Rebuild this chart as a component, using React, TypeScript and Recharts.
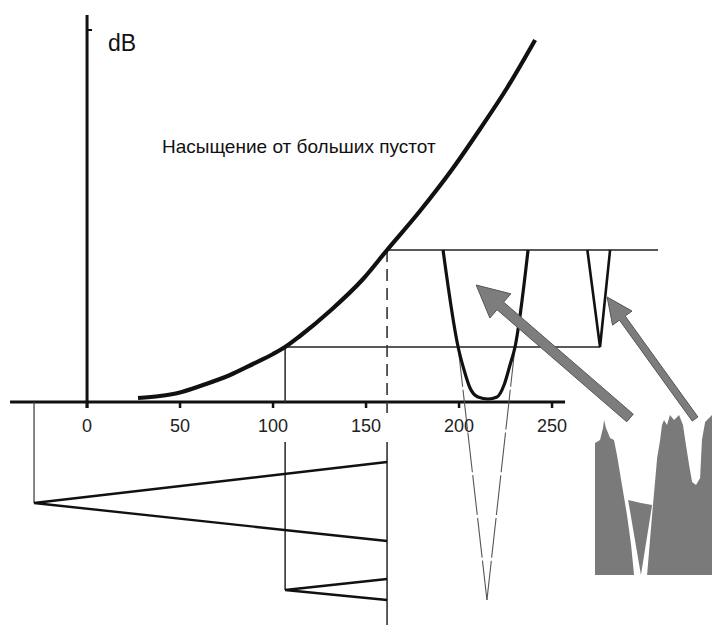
import React from 'react'
import { ComposedChart, Line, Area, XAxis, YAxis, ReferenceLine, ReferenceDot } from 'recharts'

// response curve (dB against grey level)
const curve = [
  { x: 27.4, y: 2 }, { x: 39.2, y: 3 }, { x: 48.9, y: 4.5 }, { x: 62.4, y: 8.5 },
  { x: 76.9, y: 13.5 }, { x: 89.2, y: 19 }, { x: 100, y: 24 }, { x: 106.5, y: 27.5 },
  { x: 114.5, y: 33 }, { x: 130.6, y: 45.5 }, { x: 148.4, y: 61.5 }, { x: 161.3, y: 76 },
  { x: 179, y: 95.5 }, { x: 196.8, y: 117 }, { x: 211.3, y: 136.5 }, { x: 225.8, y: 157 },
  { x: 240.9, y: 181 },
]

// wide void trough
const trough = [
  { x: 191.4, y: 76 }, { x: 199.5, y: 27.5 }, { x: 202.7, y: 16 }, { x: 205.9, y: 7 },
  { x: 210.2, y: 2.5 }, { x: 215.6, y: 1.5 }, { x: 220.4, y: 2.5 }, { x: 224.2, y: 8.5 },
  { x: 227.4, y: 18.5 }, { x: 230.1, y: 27.5 }, { x: 237.1, y: 76 },
]
const troughExtLeft = [{ x: 199.5, y: 27.5 }, { x: 215, y: -99 }]
const troughExtRight = [{ x: 230.1, y: 27.5 }, { x: 215, y: -99 }]

// narrow notch
const notch = [{ x: 269.0, y: 76 }, { x: 275.8, y: 27.5 }, { x: 281.2, y: 76 }]

// axes and guide lines
const axisX = [{ x: -41.4, y: 0 }, { x: 257, y: 0 }]
const axisY = [{ x: 0, y: -3 }, { x: 0, y: 193.5 }]
const axisYTick = [{ x: 0, y: 186 }, { x: 2.7, y: 186 }]
const levelLow = [{ x: 106.5, y: 27.5 }, { x: 275.8, y: 27.5 }]
const levelHigh = [{ x: 161.3, y: 76 }, { x: 307, y: 76 }]
const dropLowTop = [{ x: 106.5, y: 27.5 }, { x: 106.5, y: 0 }]
const dropLowBottom = [{ x: 106.5, y: -20 }, { x: 106.5, y: -94 }]
const dropHighTop = [{ x: 161.3, y: 76 }, { x: 161.3, y: -5.5 }]
const dropHighBottom = [{ x: 161.3, y: -20 }, { x: 161.3, y: -111.5 }]
const leftDrop = [{ x: -28.5, y: 0 }, { x: -28.5, y: -50.5 }]

// sweep triangles below the axis
const sweepBig = [{ x: 161.3, y: -30 }, { x: -28.5, y: -50.5 }, { x: 161.3, y: -69.5 }]
const sweepSmall = [{ x: 161.3, y: -88.5 }, { x: 106.5, y: -94 }, { x: 161.3, y: -99 }]

const xTicks = [0, 50, 100, 150, 200, 250]

// grey-level histogram (lo, hi)
const histLeft = [
  { x: 273.1, lo: -86.5, hi: -20.5 }, { x: 275.8, lo: -86.5, hi: -19 }, { x: 277.4, lo: -86.5, hi: -13 },
  { x: 278, lo: -86.5, hi: -9 }, { x: 279, lo: -86.5, hi: -13 }, { x: 281.2, lo: -86.5, hi: -18 },
  { x: 283.3, lo: -86.5, hi: -19 }, { x: 284.9, lo: -86.5, hi: -26.5 }, { x: 287.6, lo: -86.5, hi: -41.5 },
  { x: 290.3, lo: -86.5, hi: -56.5 }, { x: 292.5, lo: -86.5, hi: -71.5 }, { x: 294.1, lo: -86.5, hi: -86.5 },
]
const histMid = [
  { x: 290.9, lo: -49, hi: -49 }, { x: 297.8, lo: -86.5, hi: -50.5 }, { x: 303.8, lo: -51.5, hi: -51.5 },
]
const histRight = [
  { x: 301.1, lo: -86.5, hi: -86.5 }, { x: 303.8, lo: -86.5, hi: -56.5 }, { x: 306.5, lo: -86.5, hi: -28 },
  { x: 308.1, lo: -86.5, hi: -19 }, { x: 309.1, lo: -86.5, hi: -11.5 }, { x: 310.2, lo: -86.5, hi: -9 },
  { x: 311.8, lo: -86.5, hi: -11.5 }, { x: 313.4, lo: -86.5, hi: -6.5 }, { x: 315.6, lo: -86.5, hi: -9 },
  { x: 318.3, lo: -86.5, hi: -6.5 }, { x: 320.4, lo: -86.5, hi: -11.5 }, { x: 322, lo: -86.5, hi: -21.5 },
  { x: 323.7, lo: -86.5, hi: -31.5 }, { x: 325.3, lo: -86.5, hi: -40 }, { x: 327.4, lo: -86.5, hi: -41.5 },
  { x: 329.6, lo: -86.5, hi: -38 }, { x: 330.6, lo: -86.5, hi: -19 }, { x: 332.3, lo: -86.5, hi: -10 },
  { x: 334.4, lo: -86.5, hi: -8 }, { x: 336, lo: -86.5, hi: -6.5 },
]

// arrows: tail -> tip
const arrowWide = [{ x: 291.9, y: -8 }, { x: 209.2, y: 58.5 }]
const arrowNarrow = [{ x: 326.9, y: -8.5 }, { x: 279.6, y: 52.5 }]

const font = '"Liberation Sans", Arial, sans-serif'

const arrowShape = (shaft: number, headLen: number, headW: number) => (props: any) => {
  const { x1, y1, x2, y2 } = props
  const dx = x2 - x1
  const dy = y2 - y1
  const len = Math.hypot(dx, dy) || 1
  const ux = dx / len
  const uy = dy / len
  const nx = -uy
  const ny = ux
  const bx = x2 - ux * headLen
  const by = y2 - uy * headLen
  const pts = [
    [x1 + (nx * shaft) / 2, y1 + (ny * shaft) / 2],
    [bx + (nx * shaft) / 2, by + (ny * shaft) / 2],
    [bx + (nx * headW) / 2, by + (ny * headW) / 2],
    [x2, y2],
    [bx - (nx * headW) / 2, by - (ny * headW) / 2],
    [bx - (nx * shaft) / 2, by - (ny * shaft) / 2],
    [x1 - (nx * shaft) / 2, y1 - (ny * shaft) / 2],
  ]
  return (
    <polygon
      points={pts.map(p => p.join(',')).join(' ')}
      fill="#7d7d7d"
      stroke="#555"
      strokeWidth={1}
    />
  )
}

const strokes = [
  { key: 'axisX', data: axisX, w: 3.2, c: '#111' },
  { key: 'axisY', data: axisY, w: 3, c: '#111' },
  { key: 'axisYTick', data: axisYTick, w: 2, c: '#111' },
  { key: 'levelLow', data: levelLow, w: 1.4, c: '#222' },
  { key: 'levelHigh', data: levelHigh, w: 1.4, c: '#222' },
  { key: 'dropLowTop', data: dropLowTop, w: 1.6, c: '#333' },
  { key: 'dropLowBottom', data: dropLowBottom, w: 1.6, c: '#333' },
  { key: 'dropHighTop', data: dropHighTop, w: 1.6, c: '#333', dash: '12 7' },
  { key: 'dropHighBottom', data: dropHighBottom, w: 1.6, c: '#333' },
  { key: 'leftDrop', data: leftDrop, w: 1.3, c: '#444' },
  { key: 'sweepBig', data: sweepBig, w: 2.4, c: '#111' },
  { key: 'sweepSmall', data: sweepSmall, w: 2.4, c: '#111' },
  { key: 'troughExtLeft', data: troughExtLeft, w: 1.1, c: '#555', dash: '40 3' },
  { key: 'troughExtRight', data: troughExtRight, w: 1.1, c: '#555', dash: '40 3' },
  { key: 'trough', data: trough, w: 3.2, c: '#111', curve: true },
  { key: 'notch', data: notch, w: 2.6, c: '#111' },
  { key: 'curve', data: curve, w: 4.2, c: '#111', curve: true },
]

export default function App() {
  return (
    <div style={{ width: 712, height: 625, background: '#fff' }}>
      <style>{'body{margin:0}'}</style>
      <ComposedChart width={712} height={625} margin={{ top: 0, right: 0, bottom: 0, left: 0 }}>
        <XAxis type="number" dataKey="x" domain={[-46.8, 336]} hide allowDataOverflow />
        <YAxis type="number" domain={[-111.5, 201]} hide allowDataOverflow />

        {[histLeft, histMid, histRight].map((h, i) => (
          <Area
            key={'hist' + i}
            data={h}
            dataKey={(d: any) => [d.lo, d.hi]}
            type="linear"
            stroke="none"
            fill="#7a7a7a"
            fillOpacity={1}
            dot={false}
            activeDot={false}
            isAnimationActive={false}
          />
        ))}

        {strokes.map(s => (
          <Line
            key={s.key}
            data={s.data}
            dataKey="y"
            type={s.curve ? 'monotone' : 'linear'}
            stroke={s.c}
            strokeWidth={s.w}
            strokeDasharray={s.dash}
            strokeLinecap="butt"
            dot={false}
            activeDot={false}
            isAnimationActive={false}
          />
        ))}

        {xTicks.map(t => (
          <ReferenceLine
            key={'tick' + t}
            segment={[{ x: t, y: 0 }, { x: t, y: -3 }]}
            stroke="#111"
            strokeWidth={2.5}
            label={{
              value: String(t),
              position: 'bottom',
              offset: 11,
              fill: '#222',
              fontSize: 18,
              fontFamily: font,
            }}
          />
        ))}

        <ReferenceLine segment={arrowWide} shape={arrowShape(10, 32, 32)} />
        <ReferenceLine segment={arrowNarrow} shape={arrowShape(7, 26, 24)} />

        <ReferenceDot
          x={11.3}
          y={179.5}
          r={0}
          fill="none"
          stroke="none"
          label={{ value: 'dB', position: 'right', offset: 0, fill: '#111', fontSize: 23, fontFamily: font }}
        />
        <ReferenceDot
          x={40.3}
          y={128}
          r={0}
          fill="none"
          stroke="none"
          label={{
            value: 'Насыщение от больших пустот',
            position: 'right',
            offset: 0,
            fill: '#111',
            fontSize: 19,
            fontFamily: font,
          }}
        />
      </ComposedChart>
    </div>
  )
}
